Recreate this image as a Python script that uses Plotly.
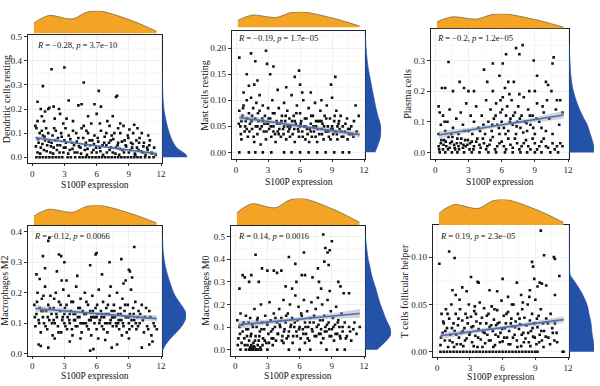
import plotly.graph_objects as go

# ---------------- DATA ----------------
x_label = "S100P expression"
y_labels = ["Dendritic cells resting", "Mast cells resting", "Plasma cells",
            "Macrophages M2", "Macrophages M0", "T cells follicular helper"]
stat_texts = ["<i>R</i> = −0.28, <i>p</i> = 3.7e−10",
              "<i>R</i> = −0.19, <i>p</i> = 1.7e−05",
              "<i>R</i> = −0.2, <i>p</i> = 1.2e−05",
              "<i>R</i> = −0.12, <i>p</i> = 0.0066",
              "<i>R</i> = 0.14, <i>p</i> = 0.0016",
              "<i>R</i> = 0.19, <i>p</i> = 2.3e−05"]
x_ticks = [0, 3, 6, 9, 12]

dendritic_pts = [
    (0.4,0),(0.7,0),(1.0,0),(1.3,0),(1.6,0),(1.9,0),(2.2,0),(2.5,0),(2.8,0),(3.3,0),(3.6,0),(4.0,0),(4.4,0),(4.7,0),
    (5.0,0),(5.3,0),(5.6,0),(5.9,0),(6.2,0),(6.5,0),(6.8,0),(7.1,0),(7.4,0),(7.7,0),(8.0,0),(8.3,0),(8.6,0),(8.9,0),
    (9.2,0),(9.5,0),(9.8,0),(10.1,0),(10.5,0),(10.9,0),(11.3,0),
    (0.5,0.02),(0.8,0.04),(1.1,0.03),(1.4,0.05),(1.7,0.02),(2.0,0.04),(2.3,0.03),(2.6,0.05),(2.9,0.02),(3.1,0.04),
    (3.5,0.03),(3.9,0.05),(4.2,0.02),(4.5,0.04),(4.9,0.03),(5.1,0.01),(5.4,0.05),(5.7,0.03),(6.0,0.02),(6.3,0.04),
    (6.6,0.01),(6.9,0.05),(7.2,0.03),(7.5,0.02),(7.8,0.04),(8.1,0.01),(8.4,0.03),(8.7,0.05),(9.0,0.02),(9.3,0.04),
    (9.6,0.01),(9.9,0.03),(10.3,0.02),(10.7,0.04),(11.1,0.02),(11.5,0.01),(0.6,0.06),(1.2,0.07),(1.8,0.06),(2.4,0.08),
    (3.0,0.07),(3.7,0.06),(4.3,0.08),(5.0,0.06),(5.6,0.07),(6.1,0.08),(6.7,0.06),(7.3,0.07),(8.0,0.06),(8.6,0.07),
    (9.2,0.06),(9.7,0.07),(10.4,0.06),(10.9,0.05),
    (0.3,0.13),(0.4,0.12),(0.7,0.1),(0.9,0.11),(1.0,0.09),(1.3,0.12),(1.5,0.1),(1.9,0.09),(2.2,0.11),(2.7,0.1),
    (3.1,0.12),(3.4,0.09),(3.8,0.11),(4.1,0.1),(4.6,0.12),(5.2,0.1),(5.8,0.09),(6.4,0.11),(6.9,0.1),(7.4,0.09),
    (8.2,0.1),(8.9,0.09),(9.4,0.1),(10.0,0.08),(0.5,0.15),(1.1,0.15),(2.1,0.16),(3.2,0.16),(3.8,0.15),(5.2,0.17),
    (5.5,0.14),(6.3,0.14),(7.0,0.15),(7.2,0.13),(8.0,0.12),(8.2,0.14),(8.5,0.13),(9.5,0.135),(9.8,0.12),(10.2,0.1),
    (10.8,0.09),(4.8,0.13),(2.9,0.14),
    (0.5,0.23),(0.8,0.2),(1.2,0.19),(1.5,0.2),(1.6,0.205),(2.0,0.21),(2.5,0.2),(2.6,0.18),(0.9,0.17),(3.4,0.235),
    (4.3,0.215),(4.6,0.22),(5.8,0.22),(6.4,0.21),(1.0,0.295),(1.8,0.365),(3.0,0.372),(4.8,0.31),(6.2,0.275),
    (7.8,0.25),(7.9,0.255),(6.0,0.18),(7.5,0.17),
    (0.35,0.045),(0.55,0.075),(0.75,0.015),(0.95,0.055),(1.15,0.085),(1.35,0.025),(1.55,0.065),(1.75,0.045),(1.95,0.015),
    (2.15,0.07),(2.35,0.05),(2.55,0.02),(2.75,0.085),(2.95,0.04),(3.15,0.06),(3.35,0.015),(3.55,0.075),(3.75,0.035),
    (3.95,0.02),(4.15,0.065),(4.35,0.045),(4.55,0.015),(4.75,0.08),(4.95,0.05),(5.15,0.035),(5.35,0.07),(5.55,0.02),
    (5.75,0.055),(5.95,0.04),(6.15,0.065),(6.35,0.025),(6.55,0.05),(6.75,0.085),(6.95,0.02),(7.15,0.06),(7.35,0.04),
    (7.55,0.075),(7.75,0.015),(7.95,0.05),(8.15,0.035),(8.35,0.065),(8.55,0.02),(8.75,0.045),(8.95,0.08),(9.15,0.03),
    (9.35,0.055),(9.55,0.015),(9.75,0.04),(9.95,0.06),(10.15,0.025),(10.35,0.045),(10.55,0.01),(10.75,0.03),(10.95,0.07),
    (11.15,0.015),(11.35,0.04),(2.05,0.12),(5.05,0.11),(7.65,0.1),(9.05,0.115)]

mast_pts = [
    (0.3,0.182),(1.4,0.19),(1.8,0.175),(2.8,0.195),(2.9,0.17),(3.2,0.15),(3.5,0.165),(1.0,0.15),(5.5,0.145),(5.9,0.157),
    (9.3,0.145),(4.7,0.125),(1.2,0.128),(1.7,0.13),(2.0,0.138),(0.7,0.115),(6.0,0.13),(7.0,0.115),(8.9,0.13),
    (0.3,0),(1.2,0),(1.8,0),(2.5,0),(3.3,0),(4.5,0),(5.2,0),(6.0,0),(6.8,0),(7.6,0),(8.4,0),(9.2,0),(10.0,0),(10.6,0),
    (0.3,0.08),(0.4,0.05),(0.5,0.025),(0.6,0.07),(0.7,0.09),(0.8,0.04),(0.9,0.06),(1.0,0.1),(1.1,0.03),(1.2,0.075),
    (1.3,0.055),(1.4,0.105),(1.5,0.045),(1.6,0.085),(1.7,0.02),(1.8,0.065),(1.9,0.095),(2.0,0.035),(2.1,0.06),(2.2,0.08),
    (2.3,0.015),(2.4,0.05),(2.5,0.09),(2.6,0.04),(2.7,0.07),(2.8,0.025),(2.9,0.055),(3.0,0.085),(3.1,0.045),(3.2,0.065),
    (3.3,0.03),(3.4,0.1),(3.5,0.05),(3.6,0.075),(3.7,0.02),(3.8,0.06),(3.9,0.04),(4.0,0.085),(4.1,0.055),(4.2,0.03),
    (4.3,0.07),(4.4,0.045),(4.5,0.095),(4.6,0.06),(4.7,0.025),(4.8,0.08),(4.9,0.04),(5.0,0.065),(5.1,0.05),(5.2,0.11),
    (5.3,0.035),(5.4,0.07),(5.5,0.02),(5.6,0.055),(5.7,0.09),(5.8,0.045),(5.9,0.03),(6.0,0.075),(6.1,0.06),(6.2,0.04),
    (6.3,0.1),(6.4,0.05),(6.5,0.025),(6.6,0.065),(6.7,0.035),(6.8,0.085),(6.9,0.045),(7.0,0.055),(7.1,0.03),(7.2,0.07),
    (7.3,0.04),(7.4,0.095),(7.5,0.05),(7.6,0.02),(7.7,0.06),(7.8,0.035),(7.9,0.08),(8.0,0.045),(8.1,0.055),(8.2,0.025),
    (8.3,0.07),(8.4,0.04),(8.5,0.09),(8.6,0.05),(8.7,0.03),(8.8,0.065),(8.9,0.045),(9.0,0.105),(9.1,0.035),(9.2,0.06),
    (9.3,0.04),(9.4,0.08),(9.5,0.025),(9.6,0.055),(9.7,0.045),(9.8,0.07),(9.9,0.03),(10.0,0.05),(10.2,0.04),(10.4,0.065),
    (10.6,0.035),(10.8,0.05),(11.0,0.03),(11.2,0.09),(11.5,0.07),
    (0.5,0.06),(1.5,0.07),(2.5,0.06),(3.5,0.04),(4.5,0.05),(5.5,0.06),(6.5,0.05),(7.5,0.06),(8.5,0.04),(9.5,0.05),
    (10.5,0.045),(1.0,0.045),(2.0,0.05),(3.0,0.055),(4.0,0.035),(5.0,0.045),(6.0,0.05),(7.0,0.04),(8.0,0.06),(9.0,0.05),
    (0.25,0.055),(0.45,0.035),(0.65,0.085),(0.85,0.05),(1.05,0.065),(1.25,0.04),(1.45,0.06),(1.65,0.03),(1.85,0.05),
    (2.05,0.075),(2.25,0.045),(2.45,0.065),(2.65,0.055),(2.85,0.04),(3.05,0.065),(3.25,0.05),(3.45,0.075),(3.65,0.035),
    (3.85,0.055),(4.05,0.045),(4.25,0.06),(4.45,0.035),(4.65,0.07),(4.85,0.05),(5.05,0.03),(5.25,0.06),(5.45,0.045),
    (5.65,0.075),(5.85,0.04),(6.05,0.055),(6.25,0.03),(6.45,0.065),(6.65,0.045),(6.85,0.02),(7.05,0.07),(7.25,0.05),
    (7.45,0.03),(7.65,0.045),(7.85,0.06),(8.05,0.035),(8.25,0.05),(8.45,0.065),(8.65,0.04),(8.85,0.025),(9.05,0.045),
    (9.25,0.07),(9.45,0.035),(9.65,0.06),(9.85,0.04),(10.05,0.03),(10.25,0.055),(10.45,0.025),(10.65,0.045),(10.85,0.035),
    (11.05,0.06),(11.3,0.04),(3.9,0.12),(6.2,0.115),(8.0,0.1),(2.2,0.11)]

plasma_pts = [
    (1.2,0.295),(5.2,0.29),(6.1,0.29),(7.3,0.34),(7.6,0.32),(7.9,0.35),(6.4,0.32),(8.9,0.3),(10.7,0.31),(10.6,0.29),
    (4.4,0.27),(5.8,0.25),(9.2,0.25),(2.2,0.23),(4.7,0.23),(6.6,0.23),(7.1,0.23),(9.0,0.2),(10.0,0.23),(10.2,0.22),
    (10.5,0.2),(11.0,0.17),(11.3,0.17),(0.3,0.15),(0.4,0.13),(0.6,0.21),(0.9,0.21),(1.6,0.2),(2.6,0.21),(3.0,0.2),(3.5,0.2),
    (0.4,0),(0.9,0),(1.5,0),(2.0,0),(2.6,0),(3.3,0),(4.0,0),(4.8,0),(5.5,0),(6.3,0),(7.0,0),(7.7,0),(8.3,0),(9.0,0),
    (9.6,0),(10.4,0),(11.1,0),
    (0.3,0.02),(0.5,0.03),(0.7,0.01),(0.8,0.04),(1.0,0.02),(1.2,0.05),(1.3,0.015),(1.5,0.035),(1.7,0.025),(1.8,0.01),
    (2.0,0.045),(2.1,0.02),(2.3,0.03),(2.5,0.015),(2.7,0.04),(2.9,0.025),(3.1,0.01),(3.3,0.035),(3.5,0.02),(3.8,0.045),
    (4.1,0.015),(4.4,0.03),(4.7,0.02),(5.0,0.04),(5.4,0.01),(5.8,0.03),(6.2,0.02),(6.6,0.045),(7.0,0.015),(7.4,0.03),
    (7.8,0.02),(8.2,0.04),(8.6,0.01),(9.0,0.03),(9.4,0.02),(9.8,0.045),(10.2,0.015),(10.6,0.03),(11.0,0.02),(11.5,0.02),
    (0.3,0.06),(0.5,0.09),(0.7,0.12),(0.9,0.07),(1.1,0.1),(1.3,0.14),(1.6,0.08),(1.9,0.11),(2.1,0.06),(2.3,0.13),
    (2.5,0.09),(2.8,0.16),(3.0,0.07),(3.2,0.12),(3.5,0.1),(3.7,0.15),(3.9,0.08),(4.2,0.12),(4.5,0.06),(4.6,0.17),
    (4.8,0.1),(5.0,0.14),(5.1,0.07),(5.3,0.11),(5.5,0.16),(5.6,0.09),(5.8,0.06),(5.9,0.13),(6.0,0.1),(6.1,0.18),
    (6.2,0.08),(6.4,0.12),(6.5,0.15),(6.6,0.07),(6.8,0.11),(6.9,0.17),(7.0,0.09),(7.2,0.13),(7.3,0.06),(7.4,0.1),
    (7.5,0.15),(7.7,0.08),(7.8,0.12),(8.0,0.18),(8.1,0.1),(8.3,0.07),(8.4,0.14),(8.6,0.09),(8.8,0.12),(9.0,0.06),
    (9.2,0.16),(9.4,0.1),(9.6,0.08),(9.8,0.13),(10.0,0.07),(10.3,0.11),(10.6,0.06),(10.9,0.14),(11.2,0.09),(11.5,0.13),
    (5.2,0.2),(6.3,0.21),(7.6,0.19),(8.5,0.2),
    (0.35,0.01),(0.55,0.04),(0.75,0.025),(0.95,0.035),(1.15,0.01),(1.35,0.03),(1.55,0.05),(1.75,0.015),(1.95,0.03),
    (2.15,0.01),(2.35,0.045),(2.55,0.025),(2.75,0.02),(2.95,0.04),(3.15,0.03),(3.45,0.01),(3.7,0.035),(4.0,0.025),
    (4.3,0.045),(4.6,0.01),(4.9,0.025),(5.2,0.05),(5.6,0.02),(6.0,0.035),(6.4,0.01),(6.8,0.025),(7.2,0.045),(7.6,0.01),
    (8.0,0.03),(8.4,0.02),(8.8,0.045),(9.2,0.01),(9.6,0.035),(10.0,0.02),(10.8,0.01),(11.3,0.03),
    (5.15,0.09),(5.45,0.12),(5.75,0.08),(6.05,0.14),(6.35,0.06),(6.75,0.1),(7.05,0.12),(7.35,0.085),(7.65,0.11),
    (7.95,0.065),(8.25,0.095),(8.55,0.12),(8.85,0.08),(9.15,0.11),(4.35,0.09),(4.05,0.07),(3.35,0.06),(2.65,0.07),
    (1.45,0.06),(0.85,0.1),(9.7,0.15),(10.1,0.17),(5.9,0.17),(6.7,0.19)]

m2_pts = [
    (1.5,0.37),(1.6,0.38),(0.7,0.245),(1.0,0.32),(2.5,0.325),(2.7,0.32),(3.0,0.3),(5.9,0.325),(6.0,0.33),(9.5,0.35),
    (7.2,0.3),(8.3,0.31),(9.0,0.275),(9.1,0.27),(5.4,0.29),(0.4,0.26),(1.2,0.28),(2.3,0.27),(3.2,0.24),(4.2,0.255),
    (6.5,0.26),(8.7,0.24),(8.5,0.23),(9.3,0.25),
    (0.6,0.03),(0.8,0.025),(1.5,0.02),(3.5,0.04),(5.4,0.01),(5.7,0.015),(7.4,0.02),(7.9,0.03),(10.2,0.02),(10.9,0.03),
    (11.2,0.04),(2.1,0.05),(4.5,0.05),(6.8,0.045),(9.0,0.05),
    (0.2,0.16),(0.3,0.09),(0.4,0.13),(0.5,0.2),(0.6,0.11),(0.7,0.15),(0.8,0.07),(0.9,0.18),(1.0,0.12),(1.1,0.1),
    (1.2,0.22),(1.3,0.14),(1.4,0.08),(1.5,0.16),(1.6,0.11),(1.7,0.19),(1.8,0.13),(1.9,0.06),(2.0,0.15),(2.1,0.1),
    (2.2,0.2),(2.3,0.12),(2.4,0.09),(2.5,0.17),(2.6,0.14),(2.7,0.07),(2.8,0.11),(2.9,0.21),(3.0,0.13),(3.1,0.09),
    (3.2,0.16),(3.3,0.12),(3.4,0.19),(3.5,0.1),(3.6,0.14),(3.7,0.08),(3.8,0.17),(3.9,0.11),(4.0,0.13),(4.1,0.22),
    (4.2,0.09),(4.3,0.15),(4.4,0.12),(4.5,0.18),(4.6,0.07),(4.7,0.14),(4.8,0.1),(4.9,0.2),(5.0,0.13),(5.1,0.09),
    (5.2,0.16),(5.3,0.11),(5.4,0.14),(5.5,0.06),(5.6,0.19),(5.7,0.12),(5.8,0.1),(5.9,0.15),(6.0,0.08),(6.1,0.13),
    (6.2,0.21),(6.3,0.11),(6.4,0.14),(6.5,0.09),(6.6,0.17),(6.7,0.12),(6.8,0.1),(6.9,0.15),(7.0,0.07),(7.1,0.13),
    (7.2,0.19),(7.3,0.11),(7.4,0.14),(7.5,0.09),(7.6,0.16),(7.7,0.12),(7.8,0.1),(7.9,0.2),(8.0,0.13),(8.1,0.08),
    (8.2,0.15),(8.3,0.11),(8.4,0.18),(8.5,0.09),(8.6,0.14),(8.7,0.12),(8.8,0.07),(8.9,0.16),(9.0,0.1),(9.1,0.13),
    (9.2,0.21),(9.3,0.09),(9.4,0.15),(9.5,0.11),(9.6,0.17),(9.7,0.08),(9.8,0.12),(9.9,0.14),(10.0,0.1),(10.2,0.16),
    (10.4,0.07),(10.5,0.12),(10.7,0.09),(10.9,0.14),(11.1,0.06),(11.3,0.1),(11.6,0.08),
    (1.0,0.14),(2.0,0.11),(3.0,0.1),(4.0,0.11),(5.0,0.1),(6.0,0.12),(7.0,0.1),(8.0,0.1),(9.0,0.12),(6.5,0.13),
    (5.5,0.12),(4.5,0.1),(3.5,0.13),(7.5,0.12),
    (0.25,0.12),(0.45,0.17),(0.65,0.1),(0.85,0.14),(1.05,0.19),(1.25,0.09),(1.45,0.12),(1.65,0.15),(1.85,0.1),(2.05,0.18),
    (2.25,0.13),(2.45,0.07),(2.65,0.16),(2.85,0.12),(3.05,0.15),(3.25,0.08),(3.45,0.11),(3.65,0.17),(3.85,0.13),(4.05,0.09),
    (4.25,0.12),(4.45,0.15),(4.65,0.1),(4.85,0.13),(5.05,0.17),(5.25,0.08),(5.45,0.11),(5.65,0.14),(5.85,0.12),(6.05,0.16),
    (6.25,0.1),(6.45,0.12),(6.65,0.08),(6.85,0.13),(7.05,0.16),(7.25,0.1),(7.45,0.12),(7.65,0.14),(7.85,0.09),(8.05,0.11),
    (8.25,0.13),(8.45,0.1),(8.65,0.16),(8.85,0.12),(9.05,0.08),(9.25,0.11),(9.45,0.13),(9.65,0.1),(9.85,0.09),(10.05,0.13),
    (10.3,0.11),(10.6,0.15),(10.8,0.08),(11.0,0.12),(11.4,0.09),(3.75,0.06),(6.15,0.05),(8.35,0.06),(2.75,0.24),(7.3,0.22)]

m0_pts = [
    (8.2,0.51),(9.0,0.48),(8.4,0.45),(8.6,0.43),(8.8,0.44),(1.9,0.42),(5.0,0.41),(6.4,0.43),(5.6,0.38),(7.7,0.36),
    (8.3,0.39),(8.7,0.375),(3.0,0.35),(2.5,0.36),(3.6,0.35),(3.9,0.34),(4.3,0.35),(0.7,0.33),(0.9,0.32),(1.5,0.33),
    (0.4,0.27),(1.3,0.3),(2.2,0.3),(5.7,0.3),(6.2,0.33),(6.5,0.33),(7.2,0.32),(7.8,0.3),(9.6,0.3),(9.8,0.28),
    (10.1,0.25),(10.6,0.25),(4.7,0.28),(5.3,0.27),(8.0,0.27),(8.8,0.26),
    (0.5,0),(1.0,0),(1.3,0),(1.6,0),(2.0,0),(2.4,0),(3.0,0),(5.0,0),(6.0,0),(7.0,0),(8.5,0),(9.5,0),(10.2,0),
    (0.2,0.13),(0.3,0.05),(0.4,0.1),(0.5,0.16),(0.6,0.03),(0.7,0.08),(0.8,0.12),(0.9,0.02),(1.0,0.15),(1.1,0.06),
    (1.2,0.09),(1.3,0.04),(1.4,0.14),(1.5,0.07),(1.6,0.11),(1.7,0.03),(1.8,0.18),(1.9,0.06),(2.0,0.1),(2.1,0.14),
    (2.2,0.04),(2.3,0.08),(2.4,0.2),(2.5,0.12),(2.6,0.05),(2.7,0.09),(2.8,0.15),(2.9,0.03),(3.0,0.11),(3.1,0.07),
    (3.2,0.21),(3.3,0.13),(3.4,0.05),(3.5,0.09),(3.6,0.16),(3.7,0.1),(3.8,0.04),(3.9,0.12),(4.0,0.07),(4.1,0.18),
    (4.2,0.1),(4.3,0.14),(4.4,0.06),(4.5,0.22),(4.6,0.09),(4.7,0.12),(4.8,0.05),(4.9,0.16),(5.0,0.08),(5.1,0.2),
    (5.2,0.11),(5.3,0.14),(5.4,0.06),(5.5,0.1),(5.6,0.24),(5.7,0.08),(5.8,0.13),(5.9,0.19),(6.0,0.1),(6.1,0.05),
    (6.2,0.15),(6.3,0.09),(6.4,0.22),(6.5,0.12),(6.6,0.07),(6.7,0.17),(6.8,0.1),(6.9,0.04),(7.0,0.14),(7.1,0.21),
    (7.2,0.08),(7.3,0.12),(7.4,0.06),(7.5,0.18),(7.6,0.1),(7.7,0.23),(7.8,0.07),(7.9,0.13),(8.0,0.09),(8.1,0.2),
    (8.2,0.05),(8.3,0.15),(8.4,0.1),(8.5,0.08),(8.6,0.22),(8.7,0.12),(8.8,0.06),(8.9,0.17),(9.0,0.09),(9.1,0.14),
    (9.2,0.04),(9.3,0.11),(9.4,0.19),(9.5,0.07),(9.6,0.13),(9.7,0.1),(9.8,0.05),(9.9,0.16),(10.0,0.08),(10.2,0.12),
    (10.4,0.06),(10.6,0.1),(10.8,0.04),(11.0,0.09),(11.3,0.07),(11.6,0.1),
    (1.4,0.01),(1.5,0.02),(1.6,0.01),(1.7,0),(1.8,0.01),(2.1,0.02),(3.5,0.02),(4.5,0.03),(6.5,0.03),(8.0,0.03),
    (0.25,0.02),(0.45,0.07),(0.65,0.11),(0.85,0.05),(1.05,0.09),(1.15,0.02),(1.25,0.12),(1.35,0.0),(1.45,0.06),(1.55,0.0),
    (1.65,0.1),(1.75,0.015),(1.85,0.04),(1.95,0.0),(2.05,0.13),(2.15,0.0),(2.25,0.06),(2.35,0.01),(2.45,0.09),(2.55,0.02),
    (2.75,0.04),(2.95,0.12),(3.15,0.03),(3.35,0.08),(3.55,0.05),(3.75,0.14),(3.95,0.07),(4.15,0.11),(4.35,0.04),(4.55,0.08),
    (4.75,0.15),(4.95,0.06),(5.15,0.1),(5.35,0.03),(5.55,0.12),(5.75,0.06),(5.95,0.09),(6.15,0.16),(6.35,0.07),(6.55,0.1),
    (6.75,0.05),(6.95,0.12),(7.15,0.09),(7.35,0.15),(7.55,0.06),(7.75,0.11),(7.95,0.07),(8.15,0.13),(8.35,0.08),(8.55,0.11),
    (8.75,0.09),(8.95,0.06),(9.15,0.1),(9.35,0.07),(9.55,0.12),(9.75,0.06),(10.0,0.1),(10.3,0.05),(10.7,0.08),(11.1,0.12)]

tfh_pts = [
    (0.2,0.093),(1.1,0.106),(1.6,0.099),(9.5,0.128),(9.8,0.102),(10.7,0.1),(10.8,0.098),(8.7,0.095),(8.8,0.09),
    (11.2,0.08),(3.1,0.079),(3.7,0.074),(3.8,0.073),(6.0,0.077),(7.3,0.073),(8.9,0.077),(9.4,0.073),(9.6,0.072),
    (10.0,0.07),(9.2,0.069),(2.3,0.068),(1.4,0.065),(1.7,0.06),(2.7,0.064),(4.8,0.065),(5.5,0.064),(6.5,0.058),
    (7.7,0.06),(8.5,0.065),(10.8,0.06),
    (0.3,0.007),(0.4,0.04),(0.5,0.02),(0.6,0.03),(0.7,0.012),(0.8,0.045),(0.9,0.025),(1.0,0.005),(1.1,0.035),
    (1.2,0.018),(1.3,0.05),(1.4,0.01),(1.5,0.03),(1.6,0.022),(1.7,0.04),(1.8,0.008),(1.9,0.028),(2.0,0.015),
    (2.1,0.045),(2.2,0.02),(2.3,0.033),(2.4,0.006),(2.5,0.025),(2.6,0.04),(2.7,0.014),(2.8,0.03),(2.9,0.05),
    (3.0,0.02),(3.1,0.037),(3.2,0.01),(3.3,0.027),(3.4,0.043),(3.5,0.017),(3.6,0.032),(3.7,0.005),(3.8,0.024),
    (3.9,0.052),(4.0,0.013),(4.1,0.036),(4.2,0.021),(4.3,0.046),(4.4,0.009),(4.5,0.03),(4.6,0.018),(4.7,0.04),
    (4.8,0.026),(4.9,0.012),(5.0,0.048),(5.1,0.022),(5.2,0.034),(5.3,0.007),(5.4,0.028),(5.5,0.044),(5.6,0.016),
    (5.7,0.031),(5.8,0.02),(5.9,0.054),(6.0,0.011),(6.1,0.038),(6.2,0.025),(6.3,0.03),(6.4,0.015),(6.5,0.042),
    (6.6,0.022),(6.7,0.008),(6.8,0.035),(6.9,0.027),(7.0,0.05),(7.1,0.018),(7.2,0.032),(7.3,0.012),(7.4,0.04),
    (7.5,0.024),(7.6,0.029),(7.7,0.006),(7.8,0.045),(7.9,0.02),(8.0,0.036),(8.1,0.014),(8.2,0.028),(8.3,0.05),
    (8.4,0.01),(8.5,0.033),(8.6,0.022),(8.7,0.04),(8.8,0.016),(8.9,0.03),(9.0,0.055),(9.1,0.008),(9.2,0.026),
    (9.3,0.038),(9.4,0.018),(9.5,0.045),(9.6,0.012),(9.7,0.03),(9.8,0.022),(10.0,0.035),(10.2,0.015),(10.4,0.04),
    (10.6,0.02),(10.8,0.03),(11.0,0.01),
    (0.3,0),(0.6,0),(0.9,0),(1.2,0),(1.5,0),(1.8,0),(2.1,0),(2.4,0),(2.7,0),(3.0,0),(3.3,0),(3.6,0),(3.9,0),(4.2,0),
    (4.5,0),(4.8,0),(5.1,0),(5.4,0),(5.7,0),(6.0,0),(6.3,0),(6.6,0),(6.9,0),(7.2,0),(7.5,0),(7.8,0),(8.1,0),(8.4,0),
    (8.7,0),(9.0,0),(9.2,0),(11.5,0),(11.6,0),
    (0.35,0.015),(0.55,0.032),(0.75,0.022),(0.95,0.04),(1.15,0.012),(1.35,0.025),(1.55,0.005),(1.75,0.018),(1.95,0.035),
    (2.15,0.008),(2.35,0.022),(2.55,0.012),(2.75,0.036),(2.95,0.018),(3.15,0.026),(3.35,0.006),(3.55,0.04),(3.75,0.015),
    (3.95,0.03),(4.15,0.005),(4.35,0.02),(4.55,0.038),(4.75,0.012),(4.95,0.028),(5.15,0.005),(5.35,0.018),(5.55,0.03),
    (5.75,0.01),(5.95,0.024),(6.15,0.015),(6.35,0.04),(6.55,0.008),(6.75,0.03),(6.95,0.015),(7.15,0.026),(7.35,0.005),
    (7.55,0.035),(7.75,0.018),(7.95,0.01),(8.15,0.028),(8.35,0.02),(8.55,0.006),(8.75,0.025),(8.95,0.015),(9.15,0.035),
    (9.35,0.01),(9.55,0.022),(9.75,0.005),(9.95,0.016),(10.15,0.03),(10.35,0.008),(10.55,0.025),(10.75,0.012),
    (10.95,0.02),(5.25,0.045),(6.85,0.05),(7.85,0.052),(3.45,0.048),(2.05,0.055),(8.45,0.058)]

# regression fits (line ends and confidence band half-widths)
fit_x = [0.3, 3.0, 6.0, 9.0, 11.6]
fit_ends = [(0.0806, 0.0144), (0.067, 0.034), (0.057, 0.122),
            (0.148, 0.115), (0.110, 0.160), (0.017, 0.034)]
fit_ci = [[0.009, 0.006, 0.004, 0.006, 0.009],
          [0.006, 0.004, 0.003, 0.004, 0.006],
          [0.012, 0.008, 0.006, 0.008, 0.013],
          [0.011, 0.007, 0.005, 0.007, 0.011],
          [0.018, 0.012, 0.009, 0.012, 0.020],
          [0.0035, 0.0024, 0.0017, 0.0024, 0.0035]]

# marginal density of S100P expression (top, relative height)
top_dens_x = [0.16, 0.6, 1.0, 1.6, 2.2, 2.8, 3.4, 3.9, 4.4, 5.0, 5.6, 6.2, 6.8, 7.4, 8.0, 8.6, 9.2, 9.8, 10.4, 11.0, 11.57]
top_dens_h = [0.45, 0.6, 0.7, 0.8, 0.77, 0.7, 0.65, 0.66, 0.78, 0.93, 0.99, 1.0, 0.95, 0.87, 0.78, 0.68, 0.58, 0.47, 0.35, 0.22, 0.1]

# marginal density of each cell fraction (right, relative width)
right_dens_y = [
    [0, 0.01, 0.02, 0.03, 0.04, 0.06, 0.08, 0.1, 0.12, 0.15, 0.18, 0.21, 0.25, 0.3, 0.37],
    [0, 0.01, 0.02, 0.03, 0.043, 0.055, 0.07, 0.085, 0.1, 0.12, 0.14, 0.16, 0.18, 0.2, 0.225],
    [0, 0.015, 0.04, 0.065, 0.09, 0.11, 0.14, 0.17, 0.2, 0.23, 0.26, 0.29, 0.32, 0.355],
    [0.01, 0.03, 0.05, 0.07, 0.09, 0.11, 0.125, 0.14, 0.16, 0.18, 0.2, 0.23, 0.26, 0.3, 0.34, 0.38],
    [0, 0.02, 0.05, 0.07, 0.1, 0.13, 0.17, 0.21, 0.26, 0.3, 0.33, 0.37, 0.4, 0.45, 0.51],
    [0, 0.007, 0.018, 0.032, 0.04, 0.049, 0.06, 0.067, 0.075, 0.081, 0.09, 0.1, 0.13]]
right_dens_w = [
    [1.0, 0.97, 0.85, 0.7, 0.58, 0.45, 0.36, 0.29, 0.23, 0.16, 0.1, 0.06, 0.03, 0.01, 0.0],
    [0.62, 0.75, 0.87, 0.96, 1.0, 0.95, 0.8, 0.68, 0.58, 0.45, 0.33, 0.2, 0.12, 0.06, 0.01],
    [0.98, 1.0, 0.93, 0.83, 0.73, 0.6, 0.42, 0.28, 0.17, 0.1, 0.06, 0.04, 0.02, 0.0],
    [0.02, 0.15, 0.35, 0.6, 0.82, 0.96, 1.0, 0.96, 0.8, 0.62, 0.48, 0.34, 0.22, 0.1, 0.04, 0.01],
    [0.45, 0.65, 0.9, 1.0, 0.95, 0.82, 0.69, 0.56, 0.44, 0.33, 0.25, 0.18, 0.12, 0.06, 0.01],
    [1.0, 1.0, 0.93, 0.87, 0.8, 0.73, 0.55, 0.4, 0.2, 0.05, 0.02, 0.01, 0.0]]

y_ticks = [[0, 0.1, 0.2, 0.3, 0.4, 0.5], [0, 0.05, 0.1, 0.15, 0.2], [0, 0.1, 0.2, 0.3],
           [0, 0.1, 0.2, 0.3, 0.4], [0, 0.1, 0.2, 0.3, 0.4, 0.5], [0, 0.05, 0.1]]
y_fmt = [".1f", ".2f", ".1f", ".1f", ".1f", ".2f"]
all_pts = [dendritic_pts, mast_pts, plasma_pts, m2_pts, m0_pts, tfh_pts]

# ---------------- LAYOUT GEOMETRY (pixels) ----------------
W, H = 600, 386
geom = [
    dict(box=(28, 163, 32, 162), yr=[-0.024, 0.505], top=(7, 30), rw=25, ylab_x=6, xlab_y=184, stat=(35, 42)),
    dict(box=(233, 367, 27, 158), yr=[-0.013, 0.234], top=(8, 24), rw=16, ylab_x=206, xlab_y=181, stat=(237, 35)),
    dict(box=(433, 572, 25, 158), yr=[-0.022, 0.404], top=(10, 25), rw=25, ylab_x=410, xlab_y=181, stat=(437, 35)),
    dict(box=(28, 163, 226, 358), yr=[-0.006, 0.419], top=(205, 225), rw=24, ylab_x=5, xlab_y=379, stat=(32, 236)),
    dict(box=(232, 367, 226, 358), yr=[-0.026, 0.548], top=(198, 225), rw=26, ylab_x=207, xlab_y=379, stat=(237, 236)),
    dict(box=(435, 572, 225, 360), yr=[-0.006, 0.134], top=(199, 225), rw=25, ylab_x=406, xlab_y=380, stat=(440, 236)),
]
XR = [-0.4, 12.1]
FONT = "Liberation Serif, Times New Roman, serif"
ORANGE = "#F3A425"
BLUE = "#2452A8"

fig = go.Figure()
layout = {}
annotations = []


def fx(px):
    return px / W


def fy(py):
    return 1 - py / H


def sfx(n):
    return "" if n == 1 else str(n)


for k in range(6):
    g = geom[k]
    l, r, t, b = g["box"]
    n_main, n_top, n_right = 3 * k + 1, 3 * k + 2, 3 * k + 3
    pts = all_pts[k]
    xs = [p[0] for p in pts]
    ys = [p[1] for p in pts]

    fig.add_trace(go.Scatter(x=top_dens_x, y=top_dens_h, mode="lines", fill="tozeroy",
                             fillcolor=ORANGE, line=dict(color="#5a4a2a", width=0.6, shape="spline"),
                             xaxis="x" + sfx(n_top), yaxis="y" + sfx(n_top), hoverinfo="skip"))
    fig.add_trace(go.Scatter(x=right_dens_w[k], y=right_dens_y[k], mode="lines", fill="tozerox",
                             fillcolor=BLUE, line=dict(color=BLUE, width=0.6, shape="spline"),
                             xaxis="x" + sfx(n_right), yaxis="y" + sfx(n_right), hoverinfo="skip"))
    fig.add_trace(go.Scatter(x=xs, y=ys, mode="markers",
                             marker=dict(symbol="square", size=2.6, color="#111111", line=dict(width=0)),
                             xaxis="x" + sfx(n_main), yaxis="y" + sfx(n_main)))
    y0, y1 = fit_ends[k]
    fy_line = [y0 + (y1 - y0) * (xv - fit_x[0]) / (fit_x[-1] - fit_x[0]) for xv in fit_x]
    upper = [v + c for v, c in zip(fy_line, fit_ci[k])]
    lower = [v - c for v, c in zip(fy_line, fit_ci[k])]
    fig.add_trace(go.Scatter(x=fit_x + fit_x[::-1], y=upper + lower[::-1], mode="lines", fill="toself",
                             fillcolor="rgba(160,160,160,0.45)", line=dict(width=0),
                             xaxis="x" + sfx(n_main), yaxis="y" + sfx(n_main), hoverinfo="skip"))
    fig.add_trace(go.Scatter(x=fit_x, y=fy_line, mode="lines", line=dict(color="#4A6DB5", width=1.6),
                             xaxis="x" + sfx(n_main), yaxis="y" + sfx(n_main), hoverinfo="skip"))

    dom_x = [fx(l), fx(r)]
    dom_y = [fy(b), fy(t)]
    ystep = y_ticks[k][1] - y_ticks[k][0]
    layout["xaxis" + sfx(n_main)] = dict(
        domain=dom_x, anchor="y" + sfx(n_main), range=XR, tickmode="array", tickvals=x_ticks,
        ticks="outside", ticklen=2, tickwidth=1, tickcolor="#333", showline=True, mirror=True,
        linecolor="#222", linewidth=1, showgrid=True, gridcolor="#e6e6e6", gridwidth=0.6,
        minor=dict(tickvals=[1.5, 4.5, 7.5, 10.5], showgrid=True, gridcolor="#f2f2f2", gridwidth=0.5, ticks=""),
        zeroline=False, tickfont=dict(family=FONT, size=9, color="#222"))
    layout["yaxis" + sfx(n_main)] = dict(
        domain=dom_y, anchor="x" + sfx(n_main), range=g["yr"], tickmode="array", tickvals=y_ticks[k],
        ticktext=[format(v, y_fmt[k]) for v in y_ticks[k]],
        ticks="outside", ticklen=3, tickwidth=1, tickcolor="#333", showline=True, mirror=True,
        linecolor="#222", linewidth=1, showgrid=True, gridcolor="#e6e6e6", gridwidth=0.6,
        minor=dict(tickvals=[v + ystep / 2 for v in y_ticks[k]], showgrid=True, gridcolor="#f2f2f2",
                   gridwidth=0.5, ticks=""),
        zeroline=False, tickfont=dict(family=FONT, size=9, color="#222"))
    tt, tb = g["top"]
    layout["xaxis" + sfx(n_top)] = dict(domain=dom_x, anchor="y" + sfx(n_top), range=XR, visible=False)
    layout["yaxis" + sfx(n_top)] = dict(domain=[fy(tb), fy(tt)], anchor="x" + sfx(n_top), range=[0, 1],
                                        visible=False)
    layout["xaxis" + sfx(n_right)] = dict(domain=[fx(r), fx(r + g["rw"])], anchor="y" + sfx(n_right),
                                          range=[0, 1], visible=False)
    layout["yaxis" + sfx(n_right)] = dict(domain=dom_y, anchor="x" + sfx(n_right), range=g["yr"],
                                          visible=False)

    annotations.append(dict(text=stat_texts[k], x=fx(g["stat"][0]), y=fy(g["stat"][1]), xref="paper",
                            yref="paper", xanchor="left", yanchor="middle", showarrow=False,
                            font=dict(family=FONT, size=8.5, color="#111")))
    annotations.append(dict(text=y_labels[k], x=fx(g["ylab_x"]), y=fy((t + b) / 2), xref="paper",
                            yref="paper", xanchor="center", yanchor="middle", textangle=-90,
                            showarrow=False, font=dict(family=FONT, size=10, color="#111")))
    annotations.append(dict(text=x_label, x=fx((l + r) / 2), y=fy(g["xlab_y"]), xref="paper",
                            yref="paper", xanchor="center", yanchor="middle", showarrow=False,
                            font=dict(family=FONT, size=9.5, color="#111")))

fig.update_layout(width=W, height=H, margin=dict(l=0, r=0, t=0, b=0), showlegend=False,
                  plot_bgcolor="white", paper_bgcolor="white", annotations=annotations, **layout)
fig.write_html("out.html", config={"displayModeBar": False, "staticPlot": True},
               post_script="document.body.style.margin='0';document.body.style.padding='0';"
                           "document.body.style.overflow='hidden';")
